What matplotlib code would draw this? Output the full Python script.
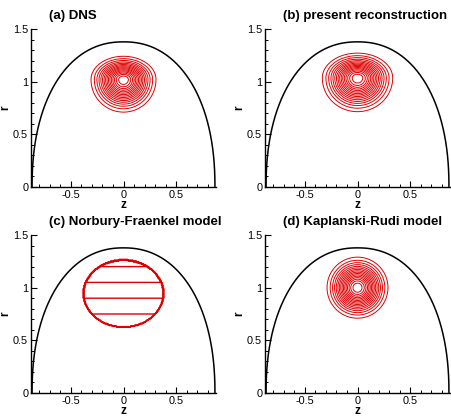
import numpy as np
import matplotlib
matplotlib.use("Agg")
import matplotlib.pyplot as plt
from matplotlib.ticker import MultipleLocator

plt.rcParams['font.family'] = ['Liberation Sans', 'DejaVu Sans']

# panel titles
titles = ['(a) DNS', '(b) present reconstruction',
          '(c) Norbury-Fraenkel model', '(d) Kaplanski-Rudi model']

# bubble (vortex atmosphere) boundary: half-length, height, superellipse exponent
bubble_a = 0.87
bubble_b = 1.378
bubble_n = 2.2

# gaussian-like cores for (a), (b), (d): centre r, sigma_z, sigma_up, sigma_down
core_r0 = [1.02, 1.035, 1.0]
core_sz = [0.144, 0.156, 0.135]
core_sup = [0.103, 0.110, 0.135]
core_sdn = [0.144, 0.149, 0.135]
core_levels = np.linspace(0.1, 0.95, 16)

# Norbury-Fraenkel patch (c): centre r, half-width in z, half-height in r
nf_r0 = 0.944
nf_az = 0.38
nf_br = 0.319
nf_levels = [0.15, 0.30, 0.45, 0.60, 0.75, 0.90, 1.05, 1.20]

red = '#e00000'

# coarse grid for the patch, fine grid for the smooth cores
zc, rc = np.meshgrid(np.linspace(-0.88, 0.88, 221), np.linspace(0.0, 1.5, 189))
zf, rf = np.meshgrid(np.linspace(-0.5, 0.5, 700), np.linspace(0.5, 1.5, 700))

fig = plt.figure(figsize=(4.51, 4.16), dpi=100)
W, H = 451.0, 416.0
boxes = [(31, 29), (265, 29), (31, 235), (265, 235)]
axes = []
for (x0, y0) in boxes:
    ax = fig.add_axes([x0 / W, 1 - (y0 + 158) / H, 185 / W, 158 / H])
    axes.append(ax)

t = np.linspace(0, np.pi, 400)
ct, st = np.cos(t), np.sin(t)
bz = bubble_a * np.sign(ct) * np.abs(ct) ** (2 / bubble_n)
br = bubble_b * np.abs(st) ** (2 / bubble_n)

for i, ax in enumerate(axes):
    ax.plot(bz, br, color='black', lw=1.1, clip_on=False, zorder=3)

    if i == 2:
        inside = (zc / nf_az) ** 2 + ((rc - nf_r0) / nf_br) ** 2 <= 1.0
        F = np.where(inside, rc, 0.0)
        ax.contour(zc, rc, F, levels=nf_levels, colors=red, linewidths=1.0)
    else:
        k = [0, 1, None, 2][i]
        dr = rf - core_r0[k]
        sr = np.where(dr > 0, core_sup[k], core_sdn[k])
        F = np.exp(-0.5 * (zf / core_sz[k]) ** 2 - 0.5 * (dr / sr) ** 2)
        ax.contour(zf, rf, F, levels=core_levels, colors=red, linewidths=0.7)

    ax.set_xlim(-0.88, 0.88)
    ax.set_ylim(0, 1.5)
    ax.spines['top'].set_visible(False)
    ax.spines['right'].set_visible(False)
    for s in ('left', 'bottom'):
        ax.spines[s].set_linewidth(1.0)
    ax.xaxis.set_minor_locator(MultipleLocator(0.1))
    ax.yaxis.set_minor_locator(MultipleLocator(0.1))
    ax.set_xticks([-0.5, 0, 0.5])
    ax.set_xticklabels(['-0.5', '0', '0.5'])
    ax.set_yticks([0, 0.5, 1, 1.5])
    ax.set_yticklabels(['0', '0.5', '1', '1.5'])
    ax.tick_params(which='major', direction='in', length=4, width=0.8,
                   labelsize=7.8, pad=2)
    ax.tick_params(which='minor', direction='in', length=2.2, width=0.7)
    ax.set_xlabel('z', fontsize=8.5, fontweight='bold', labelpad=-0.5)
    ax.set_ylabel('r', fontsize=8.5, fontweight='bold', labelpad=1)
    ax.text(18 / 185, 1.0 + 10 / 158, titles[i], transform=ax.transAxes,
            fontsize=9.5, fontweight='bold', ha='left', va='baseline')

fig.savefig('out.png', dpi=100)
